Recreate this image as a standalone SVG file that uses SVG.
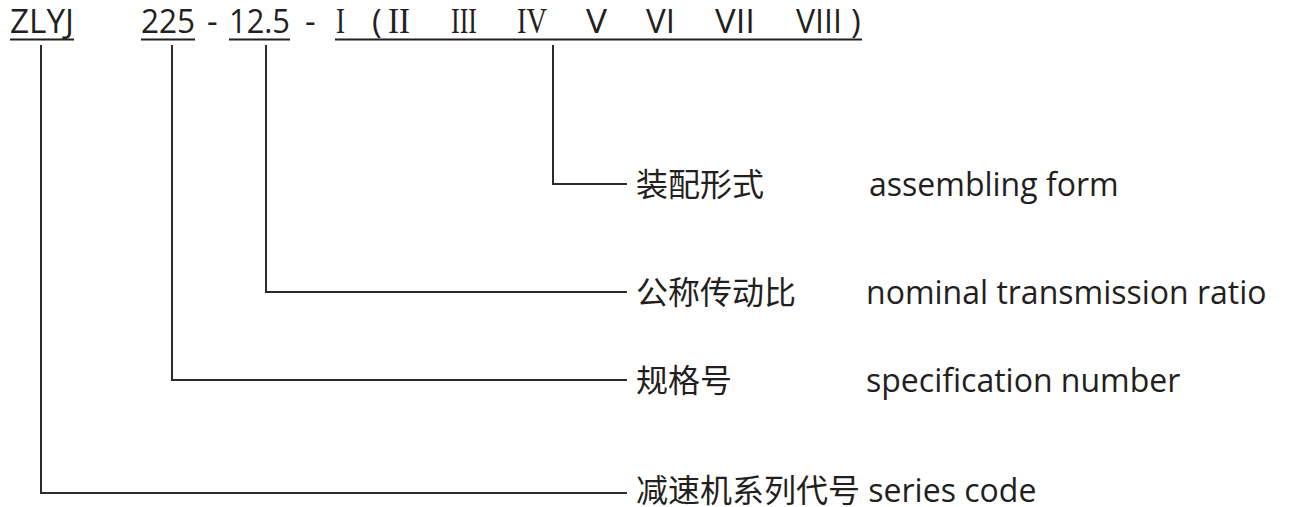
<svg xmlns="http://www.w3.org/2000/svg" width="1289" height="507" viewBox="0 0 1289 507">
<style>
.s{font-family:"Open Sans","Noto Sans CJK SC",sans-serif;font-size:32px;fill:#231f20}
.t{font-size:33px}
.r{font-family:"Liberation Serif",serif;font-size:35px;fill:#231f20}
.u{stroke:#231f20;stroke-width:2;fill:none}
.c{stroke:#2b2b2b;stroke-width:2;fill:none}
</style>
<rect width="1289" height="507" fill="#fff"/>
<g id="code">
<text class="s t" x="10" y="33" textLength="64" lengthAdjust="spacingAndGlyphs">ZLYJ</text>
<text class="s t" x="141" y="33" textLength="54" lengthAdjust="spacingAndGlyphs">225</text>
<text class="s t" x="207" y="33">-</text>
<text class="s t" x="229" y="33" textLength="61" lengthAdjust="spacingAndGlyphs">12.5</text>
<text class="s t" x="305" y="33">-</text>
<text class="r" x="336" y="33" textLength="9" lengthAdjust="spacingAndGlyphs">I</text>
<text class="s t" x="372" y="33">(</text>
<text class="r" x="388" y="33" textLength="22" lengthAdjust="spacingAndGlyphs">II</text>
<text class="r" x="451" y="33" textLength="26" lengthAdjust="spacingAndGlyphs">III</text>
<text class="r" x="517" y="33" textLength="30" lengthAdjust="spacingAndGlyphs">IV</text>
<text class="s t" x="586" y="33" textLength="21" lengthAdjust="spacingAndGlyphs">V</text>
<text class="s t" x="646" y="33" textLength="29" lengthAdjust="spacingAndGlyphs">VI</text>
<text class="s t" x="715" y="33" textLength="40" lengthAdjust="spacingAndGlyphs">VII</text>
<text class="s t" x="796" y="33" textLength="46" lengthAdjust="spacingAndGlyphs">VIII</text>
<text class="s t" x="851" y="33">)</text>
<path class="u" d="M10 39.5H74M141 39.5H195M229 39.5H290M335 39.5H862"/>
</g>
<g id="connectors">
<path class="c" d="M553 45V184H627"/>
<path class="c" d="M266 45V292H627"/>
<path class="c" d="M172 45V380H627"/>
<path class="c" d="M41 45V493H627"/>
</g>
<g id="n1"><text class="s" x="636" y="196">装配形式</text><text class="s" x="869" y="196">assembling form</text></g>
<g id="n2"><text class="s" x="636" y="304">公称传动比</text><text class="s" x="866" y="304">nominal transmission ratio</text></g>
<g id="n3"><text class="s" x="636" y="392">规格号</text><text class="s" x="866" y="392">specification number</text></g>
<g id="n4"><text class="s" x="636" y="502">减速机系列代号 series code</text></g>
</svg>
